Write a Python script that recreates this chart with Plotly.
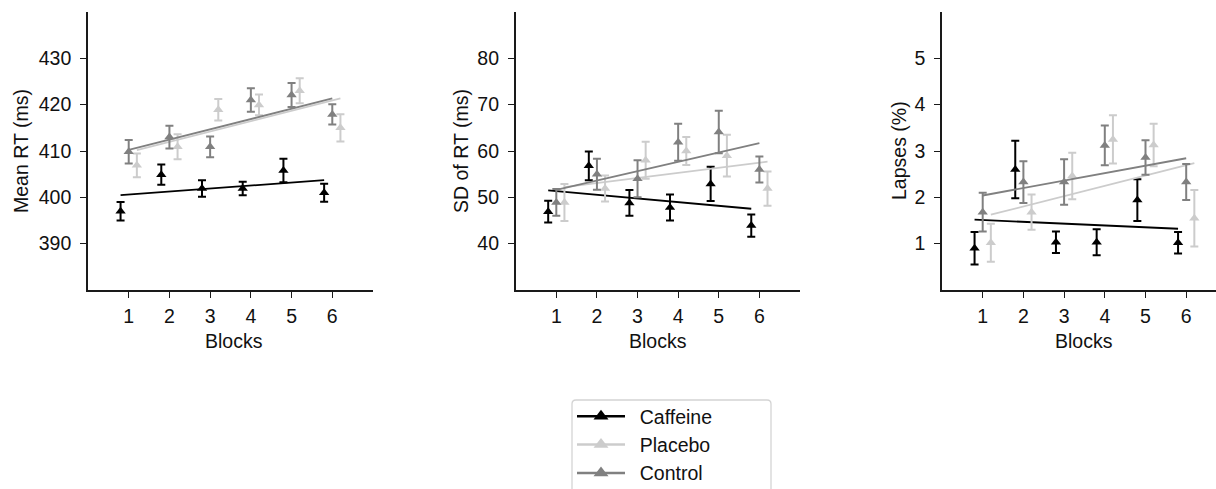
import numpy as np
import plotly.graph_objects as go

# ---------------- data ----------------
blocks = [1, 2, 3, 4, 5, 6]
block_labels = ["1", "2", "3", "4", "5", "6"]
groups = ["Caffeine", "Placebo", "Control"]

# Mean RT (ms)
rt_caffeine = [397.0, 404.9, 401.9, 401.9, 405.8, 401.0]
rt_caffeine_err = [2.0, 2.2, 1.8, 1.45, 2.55, 1.95]
rt_placebo = [406.9, 410.9, 418.9, 419.95, 423.0, 415.0]
rt_placebo_err = [2.55, 2.7, 2.3, 2.25, 2.7, 2.95]
rt_control = [409.85, 413.0, 410.9, 421.0, 422.1, 417.9]
rt_control_err = [2.55, 2.45, 2.25, 2.55, 2.6, 2.2]

# SD of RT (ms)
sd_caffeine = [46.9, 56.8, 48.8, 47.8, 52.9, 43.9]
sd_caffeine_err = [2.35, 3.1, 2.8, 2.8, 3.7, 2.4]
sd_placebo = [48.9, 51.9, 58.0, 60.0, 59.0, 51.9]
sd_placebo_err = [4.0, 2.8, 4.0, 3.0, 4.5, 3.7]
sd_control = [48.9, 55.0, 54.0, 61.9, 64.1, 56.0]
sd_control_err = [2.9, 3.35, 4.0, 4.0, 4.6, 2.8]

# Lapses (%)
lp_caffeine = [0.9, 2.6, 1.03, 1.03, 1.94, 1.02]
lp_caffeine_err = [0.35, 0.62, 0.23, 0.28, 0.45, 0.23]
lp_placebo = [1.02, 1.68, 2.46, 3.25, 3.13, 1.55]
lp_placebo_err = [0.41, 0.38, 0.5, 0.52, 0.46, 0.61]
lp_control = [1.68, 2.33, 2.33, 3.12, 2.86, 2.33]
lp_control_err = [0.42, 0.45, 0.49, 0.43, 0.37, 0.39]

y_titles = ["Mean RT (ms)", "SD of RT (ms)", "Lapses (%)"]
x_title = "Blocks"
y_ticks = [[390, 400, 410, 420, 430], [40, 50, 60, 70, 80], [1, 2, 3, 4, 5]]
y_ranges = [[380, 440], [30, 90], [0, 6]]

# ---------------- style ----------------
colors = {"Caffeine": "#000000", "Placebo": "#cccccc", "Control": "#808080"}
offsets = {"Caffeine": -0.2, "Placebo": 0.2, "Control": 0.0}
FONT = "Liberation Sans, Arial, Helvetica, sans-serif"
FS = 19.5
LFS = 19.5
W, H = 1216, 489

panels = [
    {"Caffeine": (rt_caffeine, rt_caffeine_err), "Placebo": (rt_placebo, rt_placebo_err),
     "Control": (rt_control, rt_control_err)},
    {"Caffeine": (sd_caffeine, sd_caffeine_err), "Placebo": (sd_placebo, sd_placebo_err),
     "Control": (sd_control, sd_control_err)},
    {"Caffeine": (lp_caffeine, lp_caffeine_err), "Placebo": (lp_placebo, lp_placebo_err),
     "Control": (lp_control, lp_control_err)},
]

# pixel geometry of panels
x_left_px = [88, 515.7, 942]
x_right_px = [373, 800, 1216]
x_ranges = [[0, 7], [0, 7], [0, (1216 - 942) / 40.7]]
y_top_px, y_bot_px = 12, 290

fig = go.Figure()
layout = {}
annotations = []

for i, pdata in enumerate(panels):
    n = "" if i == 0 else str(i + 1)
    xa, ya = "x" + n, "y" + n
    for g in groups:
        vals, errs = pdata[g]
        xs = np.array(blocks, dtype=float) + offsets[g]
        fig.add_trace(go.Scatter(
            x=xs, y=vals, mode="markers", xaxis=xa, yaxis=ya,
            marker=dict(symbol="triangle-up", size=9, color=colors[g]),
            error_y=dict(type="data", array=errs, color=colors[g], thickness=2, width=4),
            showlegend=False, hoverinfo="skip"))
        slope, intercept = np.polyfit(xs, np.array(vals), 1)
        xl = np.array([xs.min(), xs.max()])
        fig.add_trace(go.Scatter(
            x=xl, y=slope * xl + intercept, mode="lines", xaxis=xa, yaxis=ya,
            line=dict(color=colors[g], width=1.8),
            showlegend=False, hoverinfo="skip"))

    axis_common = dict(
        showline=True, linecolor="#1a1a1a", linewidth=1.6, mirror=False,
        showgrid=False, zeroline=False, ticks="outside", ticklen=6,
        tickwidth=1.3, tickcolor="#1a1a1a", automargin=False,
        tickfont=dict(family=FONT, size=FS, color="#111111"),
    )
    layout["xaxis" + n] = dict(
        axis_common, domain=[x_left_px[i] / W, x_right_px[i] / W],
        range=x_ranges[i], tickvals=blocks, ticktext=block_labels,
        anchor=ya, ticklabelstandoff=2)
    layout["yaxis" + n] = dict(
        axis_common, domain=[1 - y_bot_px / H, 1 - y_top_px / H],
        range=y_ranges[i], tickvals=y_ticks[i], anchor=xa, ticklabelstandoff=5)

# legend-only traces
for g in groups:
    fig.add_trace(go.Scatter(
        x=[None], y=[None], mode="lines+markers", name="\u2002" + g,
        marker=dict(symbol="triangle-up", size=13, color=colors[g]),
        line=dict(color=colors[g], width=2.5)))

# axis titles as annotations
y_title_x = [21, 461, 899]
blocks_x = [(x_left_px[0] + x_right_px[0]) / 2 + 3, (x_left_px[1] + x_right_px[1]) / 2,
            942 + 142]
for i in range(3):
    annotations.append(dict(
        text=y_titles[i], x=y_title_x[i] / W, y=1 - 151 / H, xref="paper", yref="paper",
        textangle=-90, showarrow=False, xanchor="center", yanchor="middle",
        font=dict(family=FONT, size=FS, color="#111111")))
    annotations.append(dict(
        text=x_title, x=blocks_x[i] / W, y=1 - 341 / H, xref="paper", yref="paper",
        showarrow=False, xanchor="center", yanchor="middle",
        font=dict(family=FONT, size=FS, color="#111111")))

# legend frame (rounded, extends past the bottom edge like the reference)
lx0, lx1 = 572 / W, 771 / W
ly1, ly0 = 1 - 400 / H, -0.05
rx, ry = 4 / W, 4 / H
frame_path = (f"M {lx0 + rx},{ly1} L {lx1 - rx},{ly1} Q {lx1},{ly1} {lx1},{ly1 - ry} "
              f"L {lx1},{ly0} L {lx0},{ly0} L {lx0},{ly1 - ry} Q {lx0},{ly1} {lx0 + rx},{ly1} Z")

fig.update_layout(
    width=W, height=H, margin=dict(l=0, r=0, t=0, b=0, autoexpand=False),
    paper_bgcolor="white", plot_bgcolor="white",
    font=dict(family=FONT, size=FS, color="#111111"),
    annotations=annotations,
    shapes=[dict(type="path", path=frame_path, xref="paper", yref="paper",
                 line=dict(color="#d4d4d4", width=1.3), fillcolor="white", layer="below")],
    legend=dict(x=572 / W, y=1 - 397 / H, xanchor="left", yanchor="top",
                borderwidth=0, bgcolor="rgba(0,0,0,0)",
                font=dict(family=FONT, size=LFS, color="#111111"),
                itemwidth=48, tracegroupgap=0),
    **layout)

fig.write_html("out.html", post_script="document.body.style.margin='0';",
               config={"displayModeBar": False})
